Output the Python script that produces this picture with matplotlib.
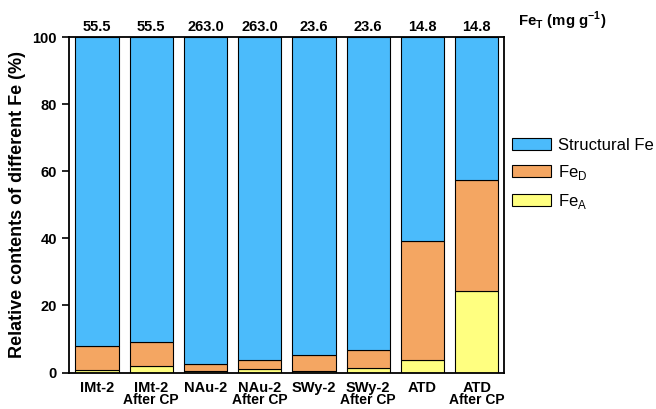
import matplotlib
matplotlib.use("Agg")
import matplotlib.pyplot as plt
import numpy as np

plt.rcParams['font.family'] = ['Liberation Sans', 'DejaVu Sans']
plt.rcParams['mathtext.fontset'] = 'custom'
plt.rcParams['mathtext.rm'] = 'Liberation Sans'
plt.rcParams['mathtext.bf'] = 'Liberation Sans:bold'

samples = ['IMt-2', 'IMt-2', 'NAu-2', 'NAu-2', 'SWy-2', 'SWy-2', 'ATD', 'ATD']
after_cp = [False, True, False, True, False, True, False, True]
fe_total = ['55.5', '55.5', '263.0', '263.0', '23.6', '23.6', '14.8', '14.8']

fe_a = [0.7, 1.9, 0.6, 1.2, 0.6, 1.5, 3.7, 24.2]
fe_d_top = [7.9, 9.0, 2.7, 3.9, 5.1, 6.8, 39.3, 57.4]
fe_d = [t - a for t, a in zip(fe_d_top, fe_a)]
structural = [100 - t for t in fe_d_top]

c_struct = '#4BBBFB'
c_d = '#F4A662'
c_a = '#FFFF80'

fig = plt.figure(figsize=(6.56, 4.09), dpi=100)
ax = fig.add_axes([0.105, 0.089, 0.663, 0.8205])

x = np.arange(len(samples))
w = 0.8
ax.bar(x, fe_a, w, color=c_a, edgecolor='black', linewidth=0.8, label='Fe$_\\mathrm{A}$')
ax.bar(x, fe_d, w, bottom=fe_a, color=c_d, edgecolor='black', linewidth=0.8, label='Fe$_\\mathrm{D}$')
ax.bar(x, structural, w, bottom=fe_d_top, color=c_struct, edgecolor='black', linewidth=0.8,
       label='Structural Fe')

ax.set_xlim(-0.52, 7.5)
ax.set_ylim(0, 100)
ax.set_yticks([0, 20, 40, 60, 80, 100])
ax.tick_params(axis='y', direction='out', length=5, width=1.2, labelsize=10.5)
ax.tick_params(axis='x', length=0, labelsize=10.5, pad=6)
for lab in ax.get_yticklabels():
    lab.set_fontweight('bold')
ax.set_xticks(x)
ax.set_xticklabels(samples, fontweight='bold')
for s in ax.spines.values():
    s.set_linewidth(1.3)

tr = ax.get_xaxis_transform()
for i in range(len(samples)):
    if after_cp[i]:
        ax.text(x[i], -0.062, 'After CP', transform=tr, ha='center', va='top',
                fontsize=10, fontweight='bold')
    ax.text(x[i], 1.01, fe_total[i], transform=tr, ha='center', va='bottom',
            fontsize=10.5, fontweight='bold')

fig.text(0.79, 0.948, 'Fe$_\\mathbf{T}$ (mg g$^\\mathbf{-1}$)', fontsize=10.8, fontweight='bold',
         ha='left', va='center')

ax.set_ylabel('Relative contents of different Fe (%)', fontsize=13, fontweight='bold', labelpad=5)

h, l = ax.get_legend_handles_labels()
fig.legend(h[::-1], l[::-1], loc='upper left', bbox_to_anchor=(0.758, 0.7), frameon=False,
           fontsize=12, handlelength=2.3, handleheight=0.72, labelspacing=0.6, handletextpad=0.45)

plt.savefig('out.png', dpi=100)
